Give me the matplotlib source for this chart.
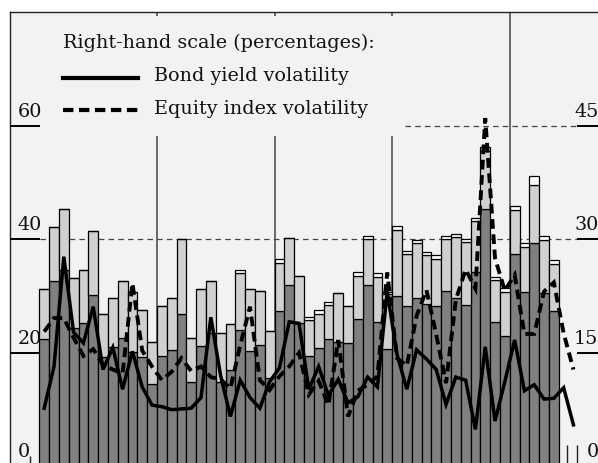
import numpy as np
import matplotlib.pyplot as plt

plt.rcParams['font.family'] = 'DejaVu Serif'
plt.rcParams['lines.scale_dashes'] = False

# monthly bars, left-hand scale
dark = [22.5, 32.7, 34.6, 24.3, 25.2, 30.1, 19.2, 21.1, 22.6, 20.2, 19.2, 14.5,
        19.5, 20.5, 26.9, 14.8, 21.2, 23.5, 14.8, 16.9, 24.1, 20.4, 21.4, 15.6,
        27.4, 32.0, 25.2, 19.5, 20.9, 22.5, 22.0, 21.7, 25.9, 31.9, 25.5, 20.6,
        30.0, 28.3, 29.7, 28.6, 28.2, 30.9, 29.6, 28.5, 34.3, 45.4, 25.4, 22.9,
        37.4, 30.8, 39.4, 30.5, 27.3]
light = [8.7, 9.4, 10.8, 8.9, 9.3, 11.3, 7.7, 8.5, 10.1, 10.5, 8.4, 7.4,
         8.8, 9.2, 13.1, 7.8, 10.1, 9.2, 8.7, 8.2, 10.0, 10.9, 9.5, 8.3,
         8.4, 8.3, 8.4, 6.2, 6.0, 5.9, 8.6, 6.6, 7.7, 8.1, 7.9, 9.7,
         11.6, 9.1, 9.6, 8.6, 8.4, 9.1, 10.8, 11.0, 8.9, 10.2, 7.4, 7.9,
         7.8, 7.9, 10.2, 9.4, 8.4]
white = [0, 0, 0, 0, 0, 0, 0, 0, 0, 0, 0, 0,
         0, 0, 0, 0, 0, 0, 0, 0, 0.5, 0, 0, 0,
         0.7, 0, 0, 0.6, 0.6, 0.5, 0, 0, 0.6, 0.5, 0.6, 0.5,
         0.7, 0.6, 0.6, 0.6, 0.6, 0.6, 0.6, 0.5, 0.6, 0.6, 0.6, 0.6,
         0.6, 0.6, 1.6, 0.6, 0.6]

# right-hand scale (percentages)
bond = [7.7, 13.2, 27.7, 17.7, 16.3, 21.1, 12.8, 15.7, 10.2, 15.2, 10.5, 8.1,
        7.9, 7.5, 7.6, 7.7, 9.1, 19.7, 12.0, 6.6, 11.4, 9.1, 7.7, 11.2,
        13.0, 19.1, 18.9, 10.2, 13.2, 9.4, 11.5, 8.4, 9.2, 11.8, 10.5, 23.1,
        14.8, 10.2, 15.4, 14.2, 12.8, 8.2, 11.8, 11.4, 4.9, 15.8, 6.0, 11.2,
        16.7, 10.0, 10.8, 8.9, 9.0, 10.4, 5.5]
equity = [17.8, 19.6, 19.6, 17.0, 14.6, 15.5, 13.4, 12.8, 12.3, 24.2, 15.3, 13.2,
          11.4, 12.5, 14.3, 12.6, 13.2, 11.8, 11.5, 10.3, 16.0, 21.1, 11.4, 10.1,
          11.9, 13.2, 15.0, 9.5, 11.3, 8.1, 16.7, 6.6, 10.0, 10.8, 11.9, 25.6,
          14.3, 13.3, 19.9, 23.3, 17.4, 11.0, 22.0, 26.0, 23.5, 46.0, 27.5, 23.2,
          25.3, 17.5, 17.5, 23.1, 24.3, 17.6, 12.8]

year_breaks = [11.5, 23.5, 35.5, 47.5]
left_ticks = [0, 20, 40, 60]
right_ticks = [0, 15, 30, 45]

fs = 13.8

fig = plt.figure(figsize=(5.98, 4.63), dpi=100)
ax = fig.add_axes([10 / 598, -3.5 / 463, 590 / 598, 454.5 / 463])
ax.set_facecolor('#f2f2f2')
ax.set_xlim(-3.49, 56.71)
ax.set_ylim(0, 80)
ax.set_xticks([])
ax.set_yticks([])
for side in ['right', 'bottom']:
    ax.spines[side].set_visible(False)
for side in ['top', 'left']:
    ax.spines[side].set_color('#222222')
    ax.spines[side].set_linewidth(1.0)

x = np.arange(len(dark))
dark = np.array(dark)
light = np.array(light)
white = np.array(white)
ax.bar(x, dark, width=1.0, color='#808080', edgecolor='black', linewidth=0.9, zorder=2)
ax.bar(x, light, bottom=dark, width=1.0, color='#d0d0d0', edgecolor='black', linewidth=0.9, zorder=2)
ax.bar(x, white, bottom=dark + light, width=1.0, color='white', edgecolor='black', linewidth=0.9, zorder=2)

# dashed reference lines and year separators
ax.hlines(40, -0.43, 54.37, colors='#444444', linewidth=0.9, linestyles=(0, (4, 3)), zorder=1)
ax.hlines(60, 36.8, 54.37, colors='#444444', linewidth=0.9, linestyles=(0, (4, 3)), zorder=1)
ax.vlines(year_breaks[:3], 0, 58.2, colors='#444444', linewidth=1.1, zorder=1)
ax.vlines(year_breaks[:3], 79.3, 80, colors='#444444', linewidth=1.1, zorder=1)
ax.vlines(year_breaks[3], 0, 80, colors='#444444', linewidth=1.1, zorder=1)
ax.vlines([-1.45], 0, 1.8, colors='#222222', linewidth=1.0)
ax.vlines([53.35, 54.37], 0, 3.8, colors='#222222', linewidth=1.0)

# left-hand scale
ax.hlines(left_ticks, -3.49, -0.43, colors='black', linewidth=1.4, zorder=3)
for v in left_ticks:
    ax.text(-2.72, v + 1.6, str(v), fontsize=fs, ha='left', va='baseline', color='#111111')

tw = ax.twinx()
tw.set_ylim(0, 60)
tw.set_yticks([])
tw.patch.set_visible(False)
for side in tw.spines:
    tw.spines[side].set_visible(False)

xl = np.arange(len(bond))
tw.plot(xl, bond, color='black', linewidth=2.5, solid_joinstyle='miter', zorder=4)
tw.plot(xl, equity, color='black', linewidth=2.8, dashes=(7, 4), dash_joinstyle='miter', zorder=4)

tw.hlines(right_ticks, 54.37, 56.71, colors='black', linewidth=1.4)
for v in right_ticks:
    tw.text(56.56, v + 1.2, str(v), fontsize=fs, ha='right', va='baseline', color='#111111')

# legend
ax.text(1.92, 73.7, 'Right-hand scale (percentages):', fontsize=fs, va='baseline', color='#111111')
ax.plot([1.92, 9.57], [68.3, 68.3], color='black', linewidth=3.0)
ax.text(11.2, 67.8, 'Bond yield volatility', fontsize=fs, va='baseline', color='#111111')
ax.plot([1.92, 9.57], [62.8, 62.8], color='black', linewidth=3.0, dashes=(7.5, 4))
ax.text(11.2, 62.1, 'Equity index volatility', fontsize=fs, va='baseline', color='#111111')

fig.savefig('out.png', dpi=100, facecolor='white')
